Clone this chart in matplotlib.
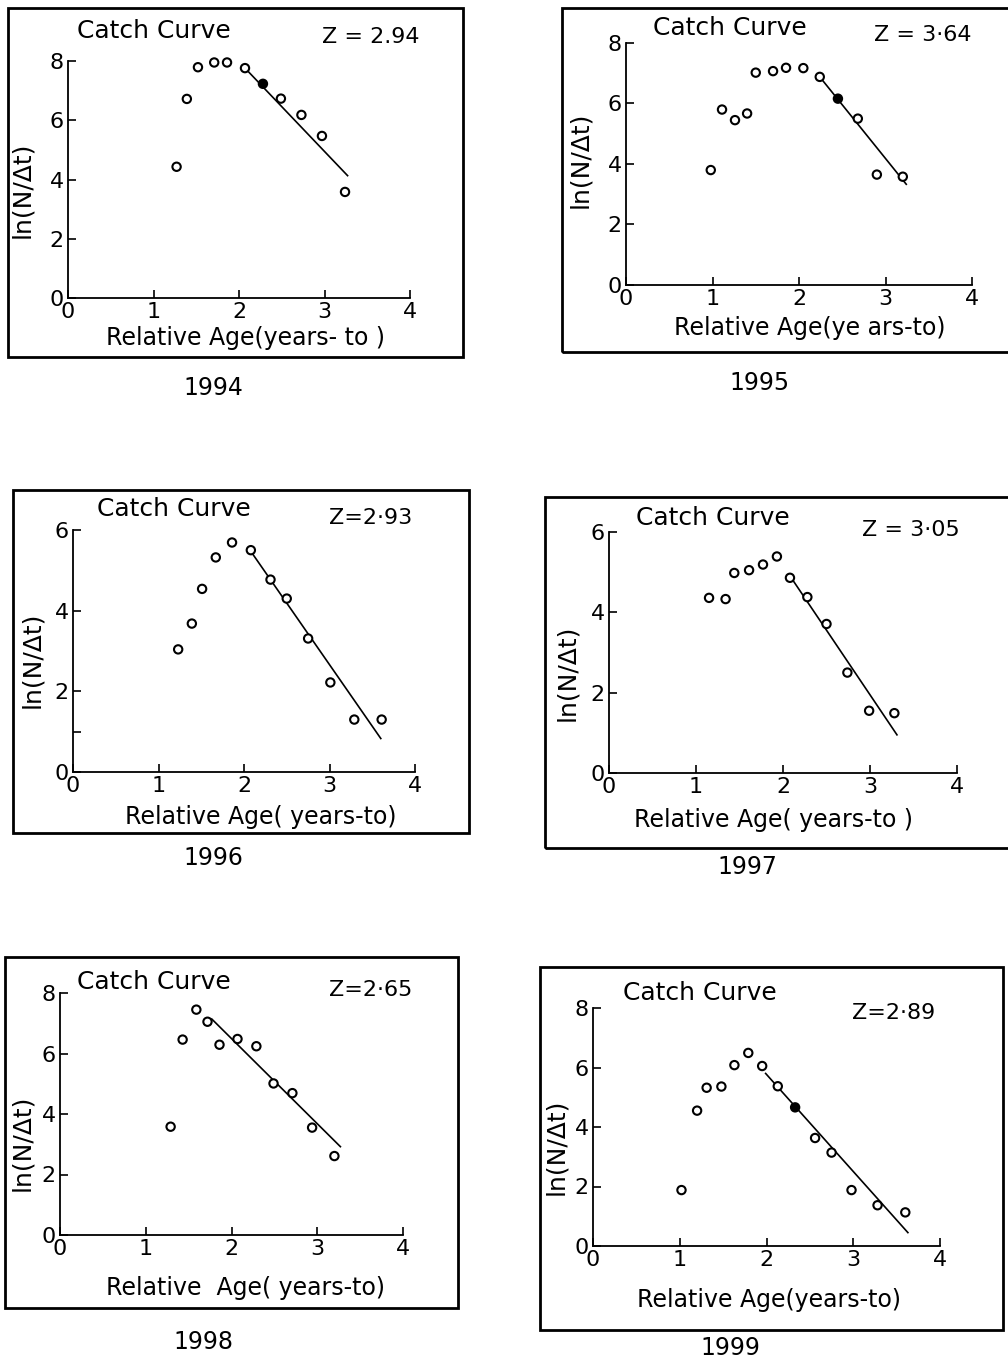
import numpy as np
import matplotlib
matplotlib.use('Agg')
from matplotlib import pyplot as plt
from matplotlib.patches import Rectangle

W, H = 1008, 1362

years = ['1994', '1995', '1996', '1997', '1998', '1999']
z_labels = ['Z = 2.94', 'Z = 3·64', 'Z=2·93', 'Z = 3·05', 'Z=2·65', 'Z=2·89']
x_labels = ['Relative Age(years- to )', 'Relative Age(ye ars-to)', 'Relative Age( years-to)',
            'Relative Age( years-to )', 'Relative  Age( years-to)', 'Relative Age(years-to)']
y_max = [8, 8, 6, 6, 8, 8]

# relative age and ln(N/dt)
age_1994 = [1.27, 1.39, 1.52, 1.71, 1.86, 2.07, 2.28, 2.49, 2.73, 2.97, 3.24]
lnN_1994 = [4.43, 6.72, 7.79, 7.95, 7.95, 7.76, 7.23, 6.73, 6.18, 5.47, 3.58]
fit_x_1994 = [2.07, 3.27]
fit_y_1994 = [7.76, 4.13]

age_1995 = [0.98, 1.11, 1.26, 1.40, 1.50, 1.70, 1.85, 2.05, 2.24, 2.45, 2.68, 2.90, 3.20]
lnN_1995 = [3.80, 5.80, 5.45, 5.67, 7.02, 7.07, 7.18, 7.17, 6.88, 6.16, 5.50, 3.65, 3.58]
fit_x_1995 = [2.24, 3.24]
fit_y_1995 = [6.88, 3.33]

age_1996 = [1.23, 1.39, 1.51, 1.67, 1.86, 2.08, 2.31, 2.50, 2.75, 3.01, 3.29, 3.61]
lnN_1996 = [3.04, 3.68, 4.54, 5.32, 5.69, 5.50, 4.77, 4.30, 3.31, 2.22, 1.30, 1.30]
fit_x_1996 = [2.08, 3.60]
fit_y_1996 = [5.47, 0.83]

age_1997 = [1.15, 1.34, 1.44, 1.61, 1.77, 1.93, 2.08, 2.28, 2.50, 2.74, 2.99, 3.28]
lnN_1997 = [4.36, 4.33, 4.98, 5.05, 5.19, 5.39, 4.86, 4.38, 3.71, 2.50, 1.55, 1.49]
fit_x_1997 = [2.11, 3.31]
fit_y_1997 = [4.81, 0.95]

age_1998 = [1.29, 1.43, 1.59, 1.72, 1.86, 2.07, 2.29, 2.49, 2.71, 2.94, 3.20]
lnN_1998 = [3.58, 6.46, 7.45, 7.05, 6.29, 6.48, 6.24, 5.01, 4.69, 3.55, 2.61]
fit_x_1998 = [1.77, 3.27]
fit_y_1998 = [7.14, 2.92]

age_1999 = [1.02, 1.20, 1.31, 1.48, 1.63, 1.79, 1.95, 2.13, 2.33, 2.56, 2.75, 2.98, 3.28, 3.60]
lnN_1999 = [1.88, 4.55, 5.32, 5.36, 6.08, 6.49, 6.05, 5.37, 4.66, 3.63, 3.14, 1.88, 1.37, 1.13]
fit_x_1999 = [1.99, 3.63]
fit_y_1999 = [5.80, 0.45]

ages = [age_1994, age_1995, age_1996, age_1997, age_1998, age_1999]
lnNs = [lnN_1994, lnN_1995, lnN_1996, lnN_1997, lnN_1998, lnN_1999]
fit_xs = [fit_x_1994, fit_x_1995, fit_x_1996, fit_x_1997, fit_x_1998, fit_x_1999]
fit_ys = [fit_y_1994, fit_y_1995, fit_y_1996, fit_y_1997, fit_y_1998, fit_y_1999]
filled = [[6], [9], [], [], [], [8]]

# layout in pixels: axes (x at 0, x at 4, y at 0, y at top), outer box, text anchors
axes_px = [(68, 410, 298, 61), (626, 972, 285, 43), (73, 415, 772, 530),
           (609, 957, 773, 532), (60, 403, 1235, 993), (593, 940, 1246, 1008)]
box_px = [(8, 8, 463, 357), (562, 8, 1012, 352), (13, 490, 469, 833),
          (545, 497, 1012, 848), (5, 957, 458, 1308), (540, 967, 1003, 1330)]
title_px = [(77, 31), (653, 28), (97, 509), (636, 518), (77, 982), (623, 993)]
z_px = [(420, 37), (972, 35), (412, 518), (960, 530), (412, 990), (935, 1013)]
ylab_px = [(22, 190), (580, 160), (32, 660), (567, 673), (22, 1143), (556, 1147)]
xlab_px = [(245, 338), (810, 328), (261, 817), (774, 820), (246, 1288), (769, 1300)]
year_px = [(213, 388), (760, 383), (213, 858), (747, 867), (203, 1342), (730, 1348)]


def fx(x):
    return x / W


def fy(y):
    return 1 - y / H


fig = plt.figure(figsize=(W / 100, H / 100), dpi=100)
fig.patch.set_facecolor('white')

for i in range(6):
    x0, x4, yb, yt = axes_px[i]
    ax = fig.add_axes([fx(x0), fy(yb), (x4 - x0) / W, (yb - yt) / H])
    ax.set_xlim(0, 4)
    ax.set_ylim(0, y_max[i])
    ax.spines['top'].set_visible(False)
    ax.spines['right'].set_visible(False)
    ax.spines['left'].set_linewidth(1.3)
    ax.spines['bottom'].set_linewidth(1.3)
    ax.set_xticks([0, 1, 2, 3, 4])
    ax.set_yticks(np.arange(0, y_max[i] + 1, 2))
    if i == 2:
        ax.set_yticks([1], minor=True)
    ax.tick_params(direction='in', length=6, width=1.2, labelsize=16, pad=3)
    ax.tick_params(which='minor', direction='in', length=6, width=1.2)
    ax.patch.set_alpha(0)

    ax.plot(fit_xs[i], fit_ys[i], color='black', linewidth=1.2)
    face = ['black' if k in filled[i] else 'white' for k in range(len(ages[i]))]
    ax.scatter(ages[i], lnNs[i], s=36, facecolors=face, edgecolors='black',
               linewidths=1.5, zorder=3, clip_on=False)

    bx0, by0, bx1, by1 = box_px[i]
    fig.patches.append(Rectangle((fx(bx0), fy(by1)), (bx1 - bx0) / W, (by1 - by0) / H,
                                 transform=fig.transFigure, fill=False,
                                 edgecolor='black', linewidth=2.0))

    fig.text(fx(title_px[i][0]), fy(title_px[i][1]), 'Catch Curve', fontsize=18,
             ha='left', va='center')
    fig.text(fx(z_px[i][0]), fy(z_px[i][1]), z_labels[i], fontsize=16,
             ha='right', va='center')
    fig.text(fx(ylab_px[i][0]), fy(ylab_px[i][1]), 'ln(N/Δt)', fontsize=18,
             rotation=90, ha='center', va='center')
    fig.text(fx(xlab_px[i][0]), fy(xlab_px[i][1]), x_labels[i], fontsize=17,
             ha='center', va='center')
    fig.text(fx(year_px[i][0]), fy(year_px[i][1]), years[i], fontsize=17,
             ha='center', va='center')

plt.savefig('out.png', dpi=100)
